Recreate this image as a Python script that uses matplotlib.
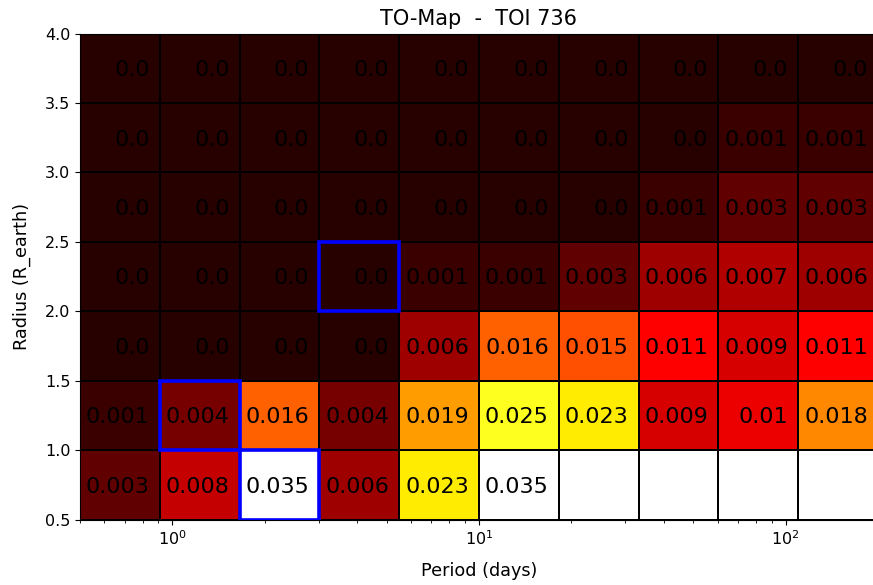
import numpy as np
import matplotlib
matplotlib.use("Agg")
import matplotlib.pyplot as plt
from matplotlib.patches import Rectangle

# period / radius bin edges
period_edges = np.logspace(np.log10(0.5), np.log10(200), 11)
radius_edges = [0.5, 1.0, 1.5, 2.0, 2.5, 3.0, 3.5, 4.0]

# occurrence values, rows from bottom (0.5-1.0) to top (3.5-4.0); nan = empty cell
row_05_10 = [0.003, 0.008, 0.035, 0.006, 0.023, 0.035, np.nan, np.nan, np.nan, np.nan]
row_10_15 = [0.001, 0.004, 0.016, 0.004, 0.019, 0.025, 0.023, 0.009, 0.01, 0.018]
row_15_20 = [0.0, 0.0, 0.0, 0.0, 0.006, 0.016, 0.015, 0.011, 0.009, 0.011]
row_20_25 = [0.0, 0.0, 0.0, 0.0, 0.001, 0.001, 0.003, 0.006, 0.007, 0.006]
row_25_30 = [0.0, 0.0, 0.0, 0.0, 0.0, 0.0, 0.0, 0.001, 0.003, 0.003]
row_30_35 = [0.0, 0.0, 0.0, 0.0, 0.0, 0.0, 0.0, 0.0, 0.001, 0.001]
row_35_40 = [0.0, 0.0, 0.0, 0.0, 0.0, 0.0, 0.0, 0.0, 0.0, 0.0]

# highlighted cells (column, row)
highlight_cells = [(1, 1), (2, 0), (3, 3)]

grid = np.array([row_05_10, row_10_15, row_15_20, row_20_25,
                 row_25_30, row_30_35, row_35_40])
masked = np.ma.masked_invalid(grid)

fig = plt.figure(figsize=(8.73, 5.85), dpi=100)
ax = fig.add_axes([80 / 873, 65.5 / 585, 798 / 873, 486 / 585])

ax.pcolormesh(period_edges, radius_edges, masked, cmap='hot',
              vmin=-0.0015, vmax=0.0327, edgecolors='black', linewidth=1.2)

# cell labels, right aligned inside each cell
for r in range(grid.shape[0]):
    yc = (radius_edges[r] + radius_edges[r + 1]) / 2
    for c in range(grid.shape[1]):
        v = grid[r, c]
        if np.isnan(v):
            continue
        ax.text(period_edges[c + 1] * 0.928, yc, str(round(v, 3)),
                ha='right', va='center_baseline', fontsize=16, color='black')

for c, r in highlight_cells:
    x0, x1 = period_edges[c], period_edges[c + 1]
    y0, y1 = radius_edges[r], radius_edges[r + 1]
    ax.add_patch(Rectangle((x0, y0), x1 - x0, y1 - y0, fill=False,
                           edgecolor='blue', linewidth=2.6, zorder=4))

ax.set_xscale('log')
ax.set_xlim(0.5, 200)
ax.set_ylim(0.5, 4.0)
ax.set_yticks(radius_edges)
ax.tick_params(labelsize=11.5)

ax.set_title('TO-Map  -  TOI 736', fontsize=15)
ax.set_xlabel('Period (days)', fontsize=12.7, labelpad=10)
ax.set_ylabel('Radius (R_earth)', fontsize=12.7, labelpad=10)

fig.savefig('out.png', dpi=100)
